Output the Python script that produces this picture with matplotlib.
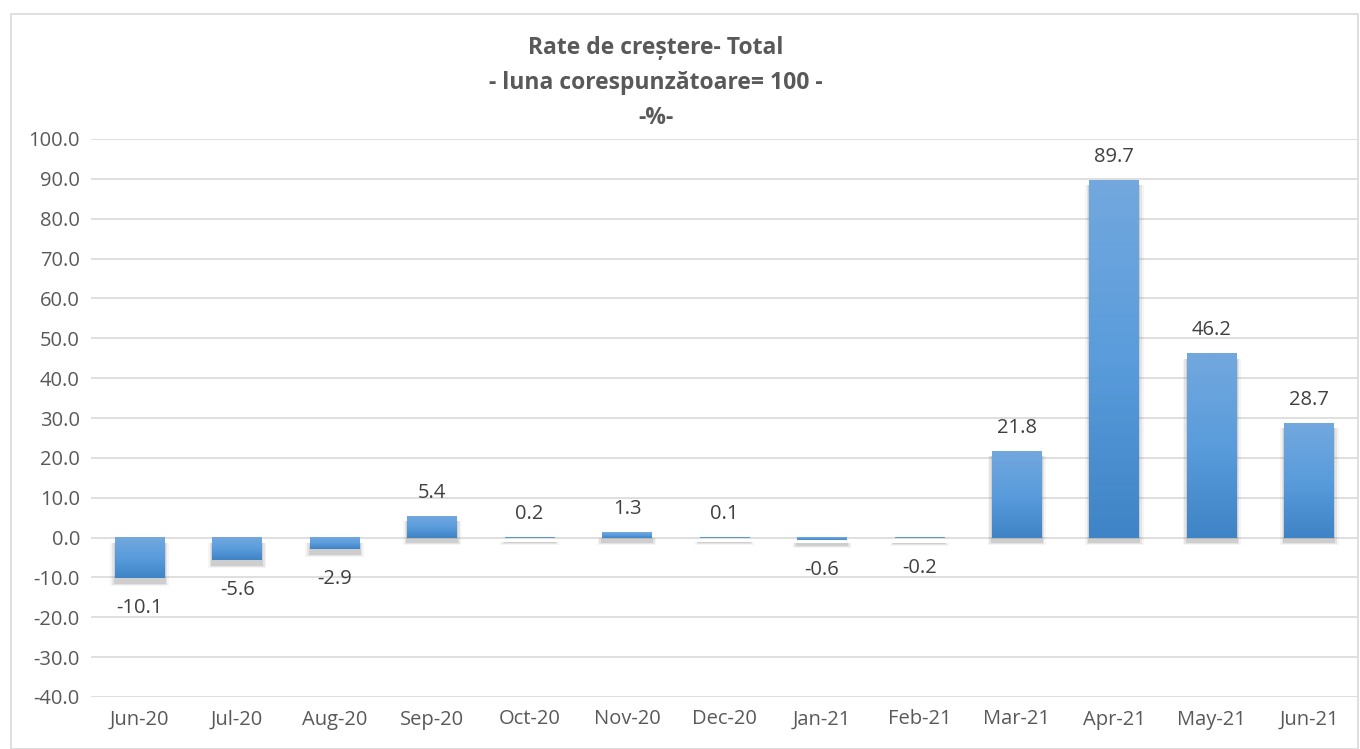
import numpy as np
import matplotlib.pyplot as plt
from matplotlib.patches import Rectangle

# Data
months = ["Jun-20", "Jul-20", "Aug-20", "Sep-20", "Oct-20", "Nov-20", "Dec-20",
          "Jan-21", "Feb-21", "Mar-21", "Apr-21", "May-21", "Jun-21"]
rates = [-10.1, -5.6, -2.9, 5.4, 0.2, 1.3, 0.1, -0.6, -0.2, 21.8, 89.7, 46.2, 28.7]
yticks = np.arange(-40, 101, 10)
title_lines = ["Rate de creștere- Total", "- luna corespunzătoare= 100 -", "-%-"]

plt.rcParams['font.family'] = ['Open Sans', 'DejaVu Sans']
txt_color = "#595959"
grid_color = "#d9d9d9"

fig = plt.figure(figsize=(13.6, 7.49), dpi=100)
ax = fig.add_axes([91 / 1360, 52 / 749, 1267 / 1360, 558 / 749])

# outer chart border
fig.patches.append(Rectangle((11 / 1360, 0), 1347 / 1360, 735 / 749,
                             transform=fig.transFigure, fill=False,
                             edgecolor=grid_color, lw=1.2))

x = np.arange(len(months))
w = 0.51
grad = np.linspace(0, 1, 64).reshape(-1, 1)
cmap = plt.matplotlib.colors.LinearSegmentedColormap.from_list(
    "bar", ["#72a8de", "#5a9cdc", "#3f84c6"])

for xi, v in zip(x, rates):
    lo, hi = min(0, v), max(0, v)
    # soft shadow, shifted down
    for k, a in [(0.045, 0.08), (0.028, 0.14), (0.012, 0.22)]:
        ax.add_patch(Rectangle((xi - w / 2 - k, lo - 1.3 - k * 15), w + 2 * k,
                               hi - lo + k * 15, color="#808080", alpha=a,
                               lw=0, zorder=2))
    ax.imshow(grad, cmap=cmap, aspect="auto", zorder=3,
              extent=[xi - w / 2, xi + w / 2, lo, hi], origin="upper")
    off = 23 if v >= 0 else -30
    ax.annotate(f"{v:.1f}", (xi, v), xytext=(0, off), textcoords="offset pixels",
                ha="center", va="center", fontsize=14.5, color="#404040")

ax.set_xlim(-0.5, len(months) - 0.5)
ax.set_ylim(-40, 100)
ax.set_yticks(yticks)
ax.set_yticklabels([f"{t:.1f}" for t in yticks])
ax.set_xticks(x)
ax.set_xticklabels(months)
ax.tick_params(length=0, labelsize=14.5, labelcolor=txt_color)
ax.tick_params(axis="x", pad=9)
ax.tick_params(axis="y", pad=8)
ax.grid(axis="y", color=grid_color, lw=1.2, zorder=0)
ax.set_axisbelow(True)
for s in ax.spines.values():
    s.set_visible(False)

for i, line in enumerate(title_lines):
    fig.text(656 / 1360, 1 - (48 + 35 * i) / 749, line, ha="center", va="center",
             fontsize=16.5, fontweight="bold", color=txt_color)

fig.savefig("out.png", dpi=100)
